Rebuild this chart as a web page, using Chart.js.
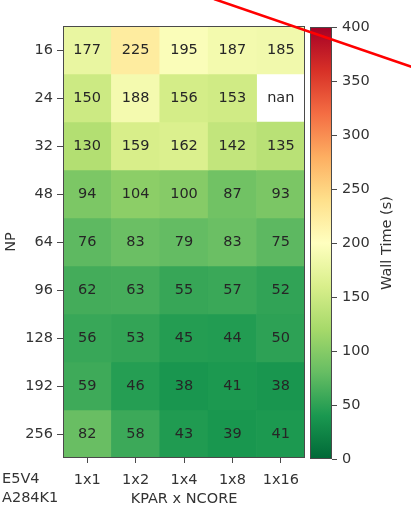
<!DOCTYPE html>
<html>
<head>
<meta charset="utf-8">
<script src="https://cdn.jsdelivr.net/npm/chart.js@4.4.1/dist/chart.umd.min.js"></script>
<style>
  html, body { margin: 0; padding: 0; background: #ffffff; }
  #wrap { position: relative; width: 411px; height: 505px; }
  #wrap canvas { position: absolute; left: 0; top: 0; }
</style>
</head>
<body>
<div id="wrap">
  <canvas id="heat" width="411" height="505"></canvas>
  <canvas id="cbar" width="411" height="505"></canvas>
</div>
<script>
// Parallelisation settings (columns) and MPI process counts (rows)
const kparNcore = ['1x1', '1x2', '1x4', '1x8', '1x16'];
const npCounts = ['16', '24', '32', '48', '64', '96', '128', '192', '256'];

// Wall time in seconds for each NP row, one entry per KPAR x NCORE column
const np16  = [177, 225, 195, 187, 185];
const np24  = [150, 188, 156, 153, null];
const np32  = [130, 159, 162, 142, 135];
const np48  = [94, 104, 100, 87, 93];
const np64  = [76, 83, 79, 83, 75];
const np96  = [62, 63, 55, 57, 52];
const np128 = [56, 53, 45, 44, 50];
const np192 = [59, 46, 38, 41, 38];
const np256 = [82, 58, 43, 39, 41];

// Colour bar range and ticks
const vMin = 0;
const vMax = 400;
const cbarTicks = [0, 50, 100, 150, 200, 250, 300, 350, 400];

const wallTime = [np16, np24, np32, np48, np64, np96, np128, np192, np256];

// Reversed red-yellow-green colormap (low = green, high = red)
const cmapStops = ['#006837', '#1a9850', '#66bd63', '#a6d96a', '#d9ef8b', '#ffffbf',
                   '#fee08b', '#fdae61', '#f46d43', '#d73027', '#a50026'];

function hexToRgb(h) {
  const n = parseInt(h.slice(1), 16);
  return [(n >> 16) & 255, (n >> 8) & 255, n & 255];
}
function cmap(v) {
  let t = (v - vMin) / (vMax - vMin);
  t = Math.max(0, Math.min(1, t));
  const pos = t * (cmapStops.length - 1);
  const i = Math.min(Math.floor(pos), cmapStops.length - 2);
  const f = pos - i;
  const a = hexToRgb(cmapStops[i]);
  const b = hexToRgb(cmapStops[i + 1]);
  const c = a.map((x, k) => Math.round(x + (b[k] - x) * f));
  return `rgb(${c[0]},${c[1]},${c[2]})`;
}

const FONT = 'DejaVu Sans';
const FSIZE = 14.5;
const TEXT = '#333333';
const FRAME = '#4a4a4a';
Chart.defaults.font.family = FONT;
Chart.defaults.font.size = FSIZE;
Chart.defaults.color = TEXT;

// One floating-bar dataset per NP row; each bar spans its row on the y scale
const heatDatasets = wallTime.map((vals, r) => ({
  label: 'NP ' + npCounts[r],
  data: vals.map(v => (v === null ? null : [r, r + 1])),
  backgroundColor: vals.map(v => (v === null ? '#ffffff' : cmap(v))),
  borderWidth: 0,
  borderSkipped: false,
  grouped: false,
  barPercentage: 1,
  categoryPercentage: 1
}));

const cellText = {
  id: 'cellText',
  afterDatasetsDraw(chart) {
    const { ctx, scales: { x, y }, chartArea } = chart;
    ctx.save();
    ctx.font = `${FSIZE}px "${FONT}"`;
    ctx.fillStyle = '#262626';
    ctx.textAlign = 'center';
    ctx.textBaseline = 'middle';
    wallTime.forEach((vals, r) => {
      vals.forEach((v, c) => {
        ctx.fillText(v === null ? 'nan' : String(v), x.getPixelForValue(c), y.getPixelForValue(r + 0.5));
      });
    });
    // frame around the heatmap
    ctx.strokeStyle = FRAME;
    ctx.lineWidth = 1;
    ctx.strokeRect(Math.round(chartArea.left) + 0.5, Math.round(chartArea.top) + 0.5,
                   Math.round(chartArea.width) - 1, Math.round(chartArea.height) - 1);
    // dataset tags in the lower-left corner
    ctx.fillStyle = TEXT;
    ctx.textAlign = 'left';
    ctx.fillText('E5V4', 2, 479);
    ctx.fillText('A284K1', 2, 498);
    ctx.restore();
  }
};

new Chart(document.getElementById('heat'), {
  type: 'bar',
  data: { labels: kparNcore, datasets: heatDatasets },
  options: {
    responsive: false,
    animation: false,
    layout: { padding: { left: 0, top: 26, right: 106, bottom: 0 } },
    plugins: { legend: { display: false }, tooltip: { enabled: false } },
    scales: {
      x: {
        type: 'category',
        offset: true,
        grid: { offset: false, drawOnChartArea: false, drawTicks: true, tickLength: 5, color: FRAME },
        border: { display: false },
        ticks: { padding: 9, color: TEXT, maxRotation: 0 },
        title: { display: true, text: 'KPAR x NCORE', color: TEXT,
                 font: { size: FSIZE, lineHeight: 1 }, padding: { top: 0, bottom: -1 } },
        afterFit(scale) { scale.height = 47; }
      },
      y: {
        type: 'linear',
        min: 0,
        max: npCounts.length,
        reverse: true,
        afterBuildTicks(scale) { scale.ticks = npCounts.map((_, i) => ({ value: i + 0.5 })); },
        ticks: { callback: (v, i) => npCounts[i], padding: 4, color: TEXT },
        grid: { drawOnChartArea: false, drawTicks: true, tickLength: 6, color: FRAME },
        border: { display: false },
        title: { display: true, text: 'NP', color: TEXT,
                 font: { size: FSIZE, lineHeight: 1 }, padding: { top: 4, bottom: 0 } },
        afterFit(scale) { scale.width = 63; }
      }
    }
  },
  plugins: [cellText]
});

const cbarDecor = {
  id: 'cbarDecor',
  afterDraw(chart) {
    const { ctx, chartArea } = chart;
    ctx.save();
    ctx.strokeStyle = FRAME;
    ctx.lineWidth = 1;
    ctx.strokeRect(Math.round(chartArea.left) + 0.5, Math.round(chartArea.top) + 0.5,
                   Math.round(chartArea.width) - 1, Math.round(chartArea.height) - 1);
    // colour bar label, reading bottom to top
    ctx.save();
    ctx.translate(387, (chartArea.top + chartArea.bottom) / 2);
    ctx.rotate(-Math.PI / 2);
    ctx.font = `${FSIZE}px "${FONT}"`;
    ctx.fillStyle = TEXT;
    ctx.textAlign = 'center';
    ctx.textBaseline = 'middle';
    ctx.fillText('Wall Time (s)', 0, 0);
    ctx.restore();
    // red annotation stroke across the upper right corner
    ctx.strokeStyle = '#ff0000';
    ctx.lineWidth = 2.5;
    ctx.beginPath();
    ctx.moveTo(214, -1);
    ctx.lineTo(412, 67);
    ctx.stroke();
    ctx.restore();
  }
};

new Chart(document.getElementById('cbar'), {
  type: 'bar',
  data: {
    labels: [''],
    datasets: [{
      data: [[vMin, vMax]],
      backgroundColor(context) {
        const chart = context.chart;
        const y = chart.scales.y;
        if (!chart.chartArea || !y) return cmap(vMin);
        const g = chart.ctx.createLinearGradient(0, y.getPixelForValue(vMin), 0, y.getPixelForValue(vMax));
        cmapStops.forEach((c, i) => g.addColorStop(i / (cmapStops.length - 1), c));
        return g;
      },
      borderWidth: 0,
      borderSkipped: false,
      barPercentage: 1,
      categoryPercentage: 1
    }]
  },
  options: {
    responsive: false,
    animation: false,
    layout: { padding: { left: 310, top: 27, right: 0, bottom: 46 } },
    plugins: { legend: { display: false }, tooltip: { enabled: false } },
    scales: {
      x: { display: false },
      y: {
        position: 'right',
        min: vMin,
        max: vMax,
        afterBuildTicks(scale) { scale.ticks = cbarTicks.map(v => ({ value: v })); },
        ticks: { padding: 5, color: TEXT },
        grid: { drawOnChartArea: false, drawTicks: true, tickLength: 5, color: FRAME },
        border: { display: false },
        title: { display: false },
        afterFit(scale) { scale.width = 79; }
      }
    }
  },
  plugins: [cbarDecor]
});
</script>
</body>
</html>
